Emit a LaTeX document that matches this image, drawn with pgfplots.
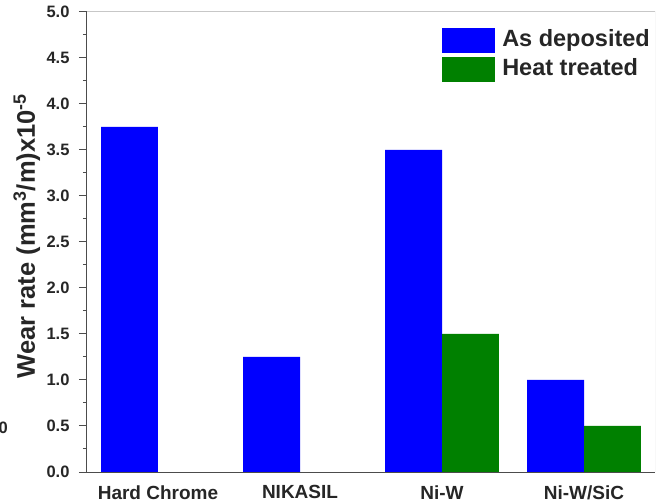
\documentclass[border=0pt]{standalone}
\usepackage{pgfplots}
\pgfplotsset{compat=1.18}
\usepackage{fontspec}
\setmainfont{Liberation Sans}
\pgfplotsset{mybarlegend/.style={legend image code/.code={\fill[##1] (0bp,-5bp) rectangle (53bp,20bp);}}}
\begin{document}
\begin{tikzpicture}
\begin{axis}[
 name=a,
 scale only axis,
 width=568bp, height=460bp,
 xmin=-0.5, xmax=3.5, ymin=0, ymax=5,
 axis x line*=bottom, axis y line*=left,
 axis line style={black!70, line width=1bp, -},
 xtick={0,1,2,3},
 xticklabels={Hard Chrome,NIKASIL,Ni-W,Ni-W/SiC},
 x tick label style={font=\fontsize{19bp}{22bp}\selectfont\bfseries, color=black!85, yshift=-2bp},
 major x tick style={draw=none},
 ytick={0,0.5,...,5},
 minor y tick num=1,
 tick align=outside,
 major tick length=8bp, minor tick length=4bp,
 y tick style={black!70, line width=1bp},
 y tick label style={font=\fontsize{16.5bp}{19bp}\selectfont\bfseries, color=black!85, xshift=-6bp},
 /pgf/number format/fixed, /pgf/number format/fixed zerofill, /pgf/number format/precision=1, /pgf/number format/assume math mode=true,
 ylabel={Wear rate (mm\textsuperscript{3}/m)x10\textsuperscript{-5}},
 ylabel style={font=\fontsize{25.5bp}{30bp}\selectfont\bfseries, color=black!85, at={(axis description cs:-0.106,0.513)}, anchor=center},
 legend style={draw=none, fill=none, at={(axis description cs:1,1)}, anchor=north east, xshift=-4bp, yshift=-16bp, inner sep=0pt, row sep=-3bp, column sep=6bp, font=\fontsize{23.5bp}{27bp}\selectfont\bfseries, nodes={inner sep=1bp, text=black!85}},
 legend cell align=left,
]
\addplot[ybar, bar width=0.4, bar shift=-0.2, fill={rgb,255:red,0;green,0;blue,255}, draw=none, mybarlegend]
  coordinates {(0,3.75) (1,1.25) (2,3.5) (3,1.0)};
\addlegendentry{\raisebox{11bp}[20bp][0bp]{As deposited}}
\addplot[ybar, bar width=0.4, bar shift=0.2, fill={rgb,255:red,0;green,128;blue,0}, draw=none, mybarlegend]
  coordinates {(2,1.5) (3,0.5)};
\addlegendentry{\raisebox{11bp}[20bp][0bp]{Heat treated}}
\draw[black!22, line width=1bp] (rel axis cs:0,1) -- (rel axis cs:1,1) -- (rel axis cs:1,0);
\end{axis}
\node[font=\fontsize{16.5bp}{19bp}\selectfont\bfseries, color=black!85, anchor=east, inner sep=0pt] at ([shift={(-79bp,44bp)}]a.south west) {0};
\pgfresetboundingbox
\path[use as bounding box] ([shift={(-87bp,-32bp)}]a.south west) rectangle ([shift={(577bp,472bp)}]a.south west);
\end{tikzpicture}
\end{document}
